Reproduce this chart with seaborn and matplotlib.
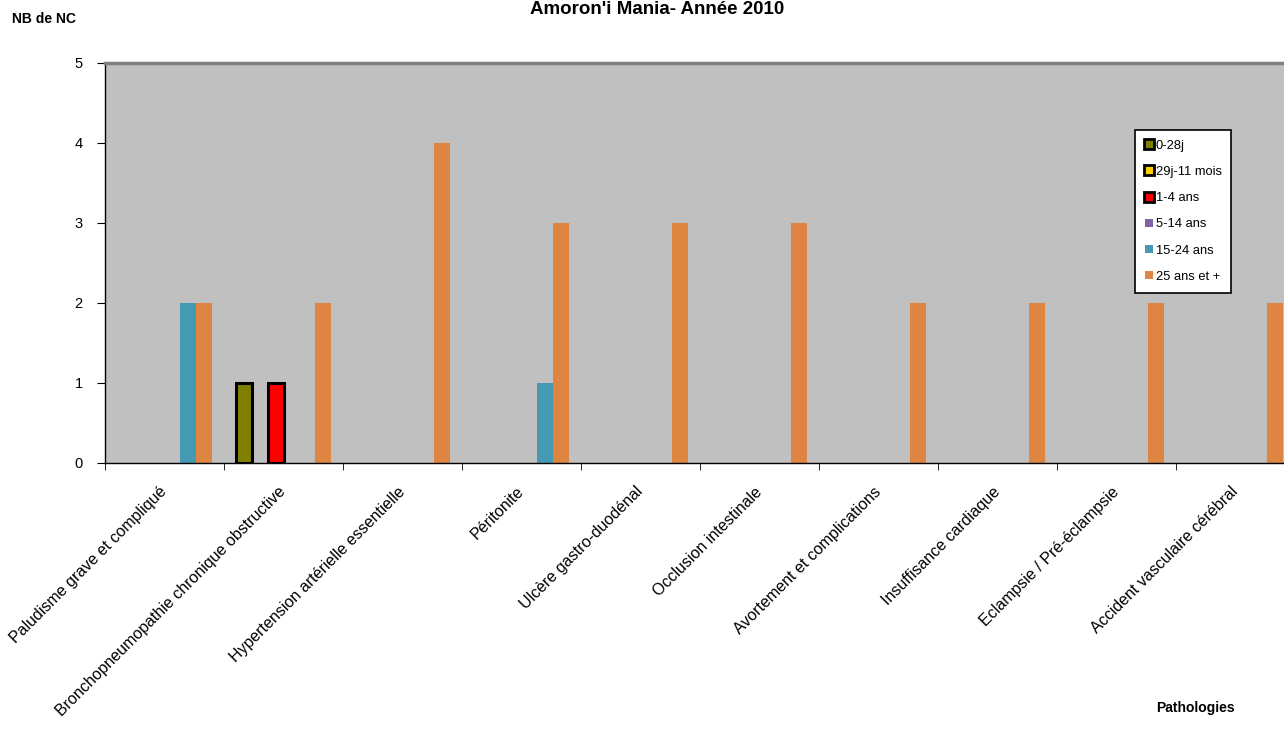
import matplotlib
matplotlib.use("Agg")
import matplotlib.pyplot as plt
import matplotlib.colors as mcolors
from matplotlib.lines import Line2D
import pandas as pd
import seaborn as sns

pathologies = [
    "Paludisme grave et compliqué",
    "Bronchopneumopathie chronique obstructive",
    "Hypertension artérielle essentielle",
    "Péritonite",
    "Ulcère gastro-duodénal",
    "Occlusion intestinale",
    "Avortement et complications",
    "Insuffisance cardiaque",
    "Eclampsie / Pré-éclampsie",
    "Accident vasculaire cérébral",
]
tranches = ["0-28j", "29j-11 mois", "1-4 ans", "5-14 ans", "15-24 ans", "25 ans et +"]
v_0_28j = [0, 1, 0, 0, 0, 0, 0, 0, 0, 0]
v_29j_11m = [0, 0, 0, 0, 0, 0, 0, 0, 0, 0]
v_1_4 = [0, 1, 0, 0, 0, 0, 0, 0, 0, 0]
v_5_14 = [0, 0, 0, 0, 0, 0, 0, 0, 0, 0]
v_15_24 = [2, 0, 0, 1, 0, 0, 0, 0, 0, 0]
v_25_plus = [2, 2, 4, 3, 3, 3, 2, 2, 2, 2]

couleurs = ["#808000", "#FFCC00", "#FF0000", "#8064A2", "#4599B2", "#DD8541"]
bord_noir = [True, True, True, False, False, False]

rows = []
for t, vals in zip(tranches, [v_0_28j, v_29j_11m, v_1_4, v_5_14, v_15_24, v_25_plus]):
    for p, v in zip(pathologies, vals):
        if v > 0:
            rows.append({"Pathologie": p, "Tranche": t, "NC": v})
df = pd.DataFrame(rows)

plt.rcParams["font.family"] = ["Liberation Sans", "DejaVu Sans"]
fig = plt.figure(figsize=(12.84, 7.51), dpi=100)
ax = fig.add_axes([105 / 1284, 1 - 463 / 751, 1190 / 1284, 400 / 751])
ax.set_facecolor("#C0C0C0")

sns.barplot(data=df, x="Pathologie", y="NC", hue="Tranche", order=pathologies,
            hue_order=tranches, palette=dict(zip(tranches, couleurs)),
            width=0.8, saturation=1, ax=ax, legend=False, errorbar=None)

# contour noir pour les trois premieres tranches
for patch in ax.patches:
    fc = mcolors.to_hex(patch.get_facecolor()).upper()
    for c, b in zip(couleurs, bord_noir):
        if b and fc == c.upper():
            patch.set_edgecolor("black")
            patch.set_linewidth(2.2)

ax.set_xlim(-0.5, len(pathologies) - 0.5)
ax.set_ylim(0, 5)
ax.set_yticks(range(6))
ax.tick_params(axis="y", labelsize=10.5, length=6, direction="out", pad=10)
ax.set_xticks(range(len(pathologies)))
ax.set_xticklabels(pathologies, rotation=45, ha="right", va="center",
                   rotation_mode="anchor", fontsize=11.5)
ax.tick_params(axis="x", which="major", length=0, pad=19)
ax.set_xticks([i - 0.5 for i in range(len(pathologies) + 1)], minor=True)
ax.tick_params(axis="x", which="minor", length=5, direction="out")
ax.set_xlabel("")
ax.set_ylabel("")
ax.grid(False)

for s in ["left", "bottom"]:
    ax.spines[s].set_color("black")
    ax.spines[s].set_linewidth(1)
ax.spines["top"].set_color("#808080")
ax.spines["top"].set_linewidth(2.5)
ax.spines["right"].set_color("#808080")
ax.spines["right"].set_linewidth(2.5)

fig.text(657 / 1284, 1 - 14 / 751, "Amoron'i Mania- Année 2010", ha="center", va="baseline",
         fontsize=13.5, fontweight="bold")
fig.text(12 / 1284, 1 - 19 / 751, "NB de NC", ha="left", va="center", fontsize=10, fontweight="bold")
fig.text(1195 / 1284, 1 - 708 / 751, "Pathologies", ha="center", va="center", fontsize=10,
         fontweight="bold")

handles = []
for t, c, b in zip(tranches, couleurs, bord_noir):
    handles.append(Line2D([], [], linestyle="none", marker="s",
                          markersize=6.5 if b else 5.5,
                          markerfacecolor=c,
                          markeredgecolor="black" if b else c,
                          markeredgewidth=2 if b else 0, label=t))
leg = fig.legend(handles=handles, loc="upper left", bbox_to_anchor=(1135 / 1284, 1 - 130 / 751),
                 bbox_transform=fig.transFigure, fontsize=9.3, frameon=True, fancybox=False,
                 borderaxespad=0, handlelength=0.6, handletextpad=0.25, labelspacing=1.1,
                 borderpad=0.75)
leg.get_frame().set_edgecolor("black")
leg.get_frame().set_linewidth(1.2)
leg.get_frame().set_facecolor("white")
leg.get_frame().set_alpha(1)

fig.savefig("out.png", dpi=100)
